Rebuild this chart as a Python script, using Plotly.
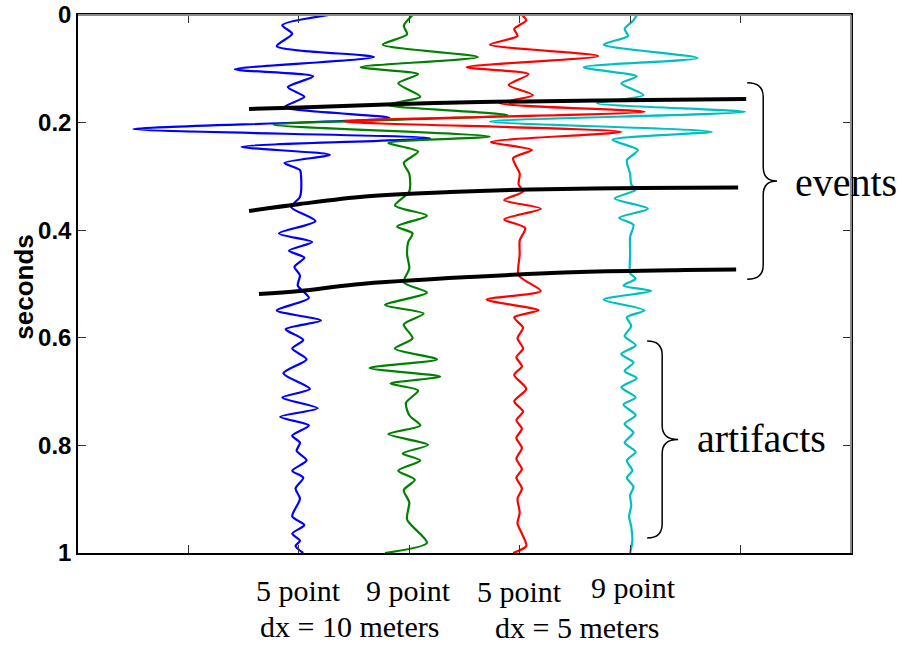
import plotly.graph_objects as go

# Seismic traces: travel time (s) and wiggle amplitude (in trace-spacing units)
trace_names = ["5 point, dx = 10 m", "9 point, dx = 10 m", "5 point, dx = 5 m", "9 point, dx = 5 m"]
trace_offsets = [2, 3, 4, 5]
trace_colors = ["#0000FF", "#008000", "#FF0000", "#00BFBF"]

t_blue = [0.000, 0.019, 0.035, 0.058, 0.078, 0.101, 0.114, 0.134, 0.152, 0.171,
          0.191, 0.212, 0.229, 0.245, 0.260, 0.275, 0.288, 0.300, 0.338, 0.357,
          0.383, 0.406, 0.422, 0.438, 0.451, 0.468, 0.484, 0.503, 0.526, 0.549,
          0.568, 0.584, 0.604, 0.620, 0.640, 0.666, 0.695, 0.711, 0.731, 0.747,
          0.763, 0.782, 0.795, 0.810, 0.828, 0.847, 0.860, 0.880, 0.899, 0.932,
          0.948, 0.964, 0.977, 0.987, 1.000]
amp_blue = [0.27, -0.15, -0.06, -0.20, 0.68, -0.58, 0.13, -0.10, 0.05, -0.13,
            0.82, -1.50, 1.19, -0.52, 0.28, -0.13, 0.01, 0.02, 0.01, -0.07,
            0.15, -0.18, 0.12, -0.09, 0.05, -0.04, 0.01, -0.01, 0.09, -0.20,
            0.20, -0.12, 0.04, -0.06, 0.07, -0.14, 0.10, -0.15, 0.17, -0.17,
            0.09, -0.06, 0.01, -0.02, 0.07, -0.06, 0.04, -0.03, 0.01, -0.06,
            0.05, -0.06, 0.01, -0.03, 0.04]

t_green = [0.000, 0.020, 0.036, 0.055, 0.078, 0.097, 0.110, 0.127, 0.152, 0.167,
           0.186, 0.204, 0.226, 0.238, 0.254, 0.275, 0.295, 0.328, 0.354, 0.373,
           0.393, 0.406, 0.422, 0.445, 0.471, 0.497, 0.516, 0.539, 0.555, 0.575,
           0.601, 0.620, 0.640, 0.656, 0.672, 0.685, 0.698, 0.721, 0.744, 0.763,
           0.779, 0.799, 0.815, 0.828, 0.847, 0.864, 0.883, 0.906, 0.938, 0.981,
           1.000]
amp_green = [0.03, -0.05, -0.02, -0.24, 0.62, -0.44, 0.08, -0.10, 0.10, -0.20,
             0.89, -1.23, 0.73, -0.19, 0.08, -0.05, 0.00, 0.00, -0.13, 0.16,
             -0.11, 0.03, -0.01, -0.02, 0.00, -0.05, 0.16, -0.22, 0.13, -0.05,
             0.03, -0.13, 0.25, -0.36, 0.28, -0.17, 0.08, -0.03, 0.00, 0.10,
             -0.19, 0.17, -0.06, 0.10, -0.10, 0.05, -0.05, 0.00, -0.02, 0.16,
             -0.22]

t_red = [0.000, 0.010, 0.026, 0.039, 0.055, 0.076, 0.097, 0.110, 0.130, 0.149,
         0.164, 0.180, 0.198, 0.217, 0.236, 0.251, 0.266, 0.295, 0.315, 0.328,
         0.344, 0.360, 0.380, 0.396, 0.419, 0.445, 0.484, 0.513, 0.529, 0.549,
         0.562, 0.581, 0.601, 0.620, 0.636, 0.653, 0.669, 0.695, 0.718, 0.737,
         0.753, 0.769, 0.786, 0.805, 0.825, 0.844, 0.860, 0.880, 0.899, 0.925,
         0.945, 0.964, 0.987, 1.000]
amp_red = [0.02, 0.06, -0.05, -0.02, -0.27, 0.71, -0.48, 0.08, -0.10, 0.12,
           -0.18, 1.13, -1.60, 0.92, -0.26, 0.11, -0.06, 0.00, -0.01, 0.03,
           -0.14, 0.19, -0.14, 0.05, 0.00, 0.00, -0.01, 0.19, -0.30, 0.17,
           -0.05, 0.03, -0.02, 0.03, -0.03, 0.02, -0.05, 0.06, -0.05, 0.03,
           -0.03, 0.02, -0.03, 0.02, -0.03, 0.02, -0.03, 0.02, -0.02, 0.00,
           -0.02, 0.02, 0.06, -0.06]

t_cyan = [0.000, 0.010, 0.026, 0.039, 0.055, 0.080, 0.097, 0.114, 0.127, 0.149,
          0.164, 0.180, 0.198, 0.217, 0.232, 0.251, 0.270, 0.295, 0.315, 0.325,
          0.341, 0.360, 0.377, 0.390, 0.412, 0.445, 0.480, 0.490, 0.503, 0.513,
          0.529, 0.549, 0.562, 0.578, 0.597, 0.614, 0.630, 0.646, 0.662, 0.675,
          0.692, 0.711, 0.724, 0.744, 0.760, 0.776, 0.795, 0.812, 0.828, 0.847,
          0.860, 0.877, 0.893, 0.912, 0.932, 0.951, 0.977, 1.000]
amp_cyan = [0.06, 0.03, -0.05, -0.02, -0.24, 0.61, -0.42, 0.06, -0.08, 0.12,
            -0.30, 1.04, -1.27, 0.74, -0.16, 0.07, -0.03, 0.00, 0.01, 0.05,
            -0.14, 0.16, -0.10, 0.03, 0.00, 0.00, 0.00, 0.05, -0.06, 0.19,
            -0.24, 0.13, -0.03, 0.01, -0.05, 0.05, -0.08, 0.03, -0.05, 0.06,
            -0.08, 0.05, -0.06, 0.05, -0.05, 0.03, -0.05, 0.05, -0.03, 0.02,
            -0.03, 0.03, 0.00, 0.01, -0.01, 0.01, 0.02, 0.00]

trace_times = [t_blue, t_green, t_red, t_cyan]
trace_amps = [amp_blue, amp_green, amp_red, amp_cyan]

# Picked reflection events (offset position, time)
event1_x = [1.549, 2.011, 2.917, 3.641, 4.728, 6.051]
event1_t = [0.1747, 0.1719, 0.1654, 0.1617, 0.1589, 0.1561]
event2_x = [1.549, 2.011, 2.600, 3.370, 4.094, 5.091, 5.978]
event2_t = [0.3643, 0.3513, 0.3374, 0.3290, 0.3243, 0.3216, 0.3206]
event3_x = [1.639, 2.011, 2.509, 3.551, 4.547, 5.498, 5.960]
event3_t = [0.5186, 0.5130, 0.5009, 0.4870, 0.4777, 0.4740, 0.4731]
events = [(event1_x, event1_t), (event2_x, event2_t), (event3_x, event3_t)]

# axis ticks
y_ticks = [0, 0.2, 0.4, 0.6, 0.8, 1]
y_tick_text = ["0", "0.2", "0.4", "0.6", "0.8", "1"]
x_ticks = [1, 2, 3, 4, 5, 6]

# bottom labels
col_labels = ["5 point", "9 point", "5 point", "9 point"]
group_labels = ["dx = 10 meters", "dx = 5 meters"]

fig = go.Figure()

for name, off, col, tt, aa in zip(trace_names, trace_offsets, trace_colors, trace_times, trace_amps):
    fig.add_trace(go.Scatter(
        x=[off + a for a in aa], y=tt, mode="lines", name=name,
        line=dict(color=col, width=2.2, shape="spline", smoothing=0.7),
        showlegend=False, hoverinfo="skip"))

for ex, et in events:
    fig.add_trace(go.Scatter(
        x=ex, y=et, mode="lines",
        line=dict(color="black", width=4, shape="spline", smoothing=1.0),
        showlegend=False, hoverinfo="skip"))


def brace_path(x0, xm, xtip, ttop, tbot, dt):
    tmid = 0.5 * (ttop + tbot)
    return (f"M {x0},{ttop} Q {xm},{ttop} {xm},{ttop + dt} "
            f"L {xm},{tmid - dt} Q {xm},{tmid} {xtip},{tmid} "
            f"Q {xm},{tmid} {xm},{tmid + dt} "
            f"L {xm},{tbot - dt} Q {xm},{tbot} {x0},{tbot}")


shapes = [
    dict(type="path", xref="x", yref="y",
         path=brace_path(6.06, 6.205, 6.33, 0.126, 0.491, 0.026),
         line=dict(color="black", width=1.5)),
    dict(type="path", xref="x", yref="y",
         path=brace_path(5.154, 5.29, 5.435, 0.606, 0.972, 0.026),
         line=dict(color="black", width=1.5)),
    # top and right frame lines
    dict(type="line", xref="paper", yref="paper", x0=0, x1=1, y0=1, y1=1,
         line=dict(color="#8a8a8a", width=2), layer="above"),
    dict(type="line", xref="paper", yref="paper", x0=1, x1=1, y0=0, y1=1,
         line=dict(color="#8a8a8a", width=2), layer="above"),
]

serif = "Liberation Serif, Times New Roman, serif"
annotations = [
    dict(text="events", xref="paper", yref="paper", x=0.9935, y=0.688,
         showarrow=False, font=dict(family=serif, size=40, color="black"),
         xanchor="center", yanchor="middle"),
    dict(text="artifacts", xref="paper", yref="paper", x=0.8836, y=0.212,
         showarrow=False, font=dict(family=serif, size=40, color="black"),
         xanchor="center", yanchor="middle"),
    dict(text="seconds", xref="paper", yref="paper", x=-0.0699, y=0.495,
         textangle=-90, showarrow=False,
         font=dict(family="Arial, Liberation Sans", size=26, color="black", weight="bold"),
         xanchor="center", yanchor="middle"),
]
label_y = [-0.069, -0.069, -0.072, -0.065]
label_x = [2.0, 2.99, 4.0, 5.03]
for lab, lx, ly in zip(col_labels, label_x, label_y):
    annotations.append(dict(text=lab, xref="x", yref="paper", x=lx, y=ly,
                            showarrow=False, font=dict(family=serif, size=30, color="black"),
                            xanchor="center", yanchor="middle"))
group_x = [2.46, 4.52]
group_y = [-0.137, -0.139]
for lab, gx, gy in zip(group_labels, group_x, group_y):
    annotations.append(dict(text=lab, xref="x", yref="paper", x=gx, y=gy,
                            showarrow=False, font=dict(family=serif, size=30, color="black"),
                            xanchor="center", yanchor="middle"))

fig.update_layout(
    width=903, height=645, autosize=False,
    margin=dict(l=78, r=52, t=15, b=92),
    paper_bgcolor="white", plot_bgcolor="white",
    shapes=shapes, annotations=annotations,
    xaxis=dict(range=[0, 7], tickvals=x_ticks, showticklabels=False,
               ticks="inside", ticklen=8, tickcolor="#333", tickwidth=1,
               showline=True, linecolor="black", linewidth=1.5, mirror="ticks",
               showgrid=False, zeroline=False, automargin=False),
    yaxis=dict(range=[1, 0], tickvals=y_ticks, ticktext=y_tick_text,
               ticks="inside", ticklen=8, tickcolor="#333", tickwidth=1,
               tickfont=dict(family="Arial, Liberation Sans", size=24, color="black", weight="bold"),
               showline=True, linecolor="black", linewidth=1.5, mirror="ticks",
               showgrid=False, zeroline=False, automargin=False),
)

fig.write_html("out.html")
